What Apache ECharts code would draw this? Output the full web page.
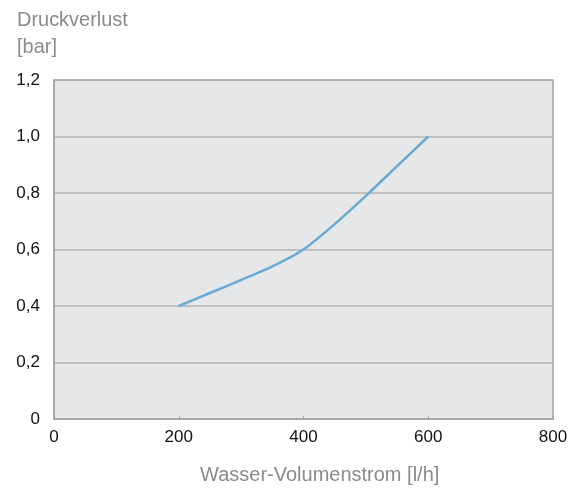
<!DOCTYPE html>
<html><head><meta charset="utf-8">
<script src="https://cdn.jsdelivr.net/npm/echarts@6/dist/echarts.min.js"></script>
<style>html,body{margin:0;padding:0;background:#fff}#c{width:587px;height:493px}</style>
</head><body><div id="c"></div>
<script>
const flow = [200, 250, 300, 350, 400, 450, 500, 550, 600];
const pressure = [0.40, 0.446, 0.492, 0.54, 0.60, 0.69, 0.79, 0.895, 1.00];
const yTitle = 'Druckverlust\n[bar]';
const xTitle = 'Wasser-Volumenstrom [l/h]';
const sans = '"Liberation Sans", Arial, sans-serif';
const chart = echarts.init(document.getElementById('c'));
chart.setOption({
  animation: false,
  graphic: [
    {type: 'text', left: 17, top: 7, scaleX: 0.95,
     style: {text: yTitle, font: '21px "Liberation Sans", Arial, sans-serif', fill: '#8a8a8a', lineHeight: 27}},
    {type: 'text', left: 200, top: 465,
     style: {text: xTitle, font: '20px "Liberation Sans", Arial, sans-serif', fill: '#8a8a8a'}}
  ],
  grid: {left: 54, right: 34, top: 80, bottom: 74, show: true, backgroundColor: '#e6e7e9', borderColor: '#a3a3a3', borderWidth: 1.5},
  xAxis: {
    type: 'value', min: 0, max: 800, interval: 200,
    axisLine: {show: true, lineStyle: {color: '#a3a3a3', width: 1.5}},
    axisTick: {show: true, inside: true, length: 3, lineStyle: {color: '#a3a3a3'}},
    axisLabel: {color: '#111', fontSize: 17, fontFamily: sans, margin: 10},
    splitLine: {show: false}
  },
  yAxis: {
    type: 'value', min: 0, max: 1.2, interval: 0.2,
    axisLine: {show: true, lineStyle: {color: '#a3a3a3', width: 1.5}},
    axisTick: {show: false},
    axisLabel: {color: '#111', fontSize: 17, fontFamily: sans, margin: 14,
      formatter: v => v === 0 ? '0' : v.toFixed(1).replace('.', ',')},
    splitLine: {show: true, lineStyle: {color: '#b3b3b3', width: 1.5}}
  },
  series: [{
    type: 'line', smooth: 0.3, showSymbol: false,
    data: flow.map((x, i) => [x, pressure[i]]),
    lineStyle: {color: '#6aaad3', width: 2.5}
  }]
});
</script></body></html>
